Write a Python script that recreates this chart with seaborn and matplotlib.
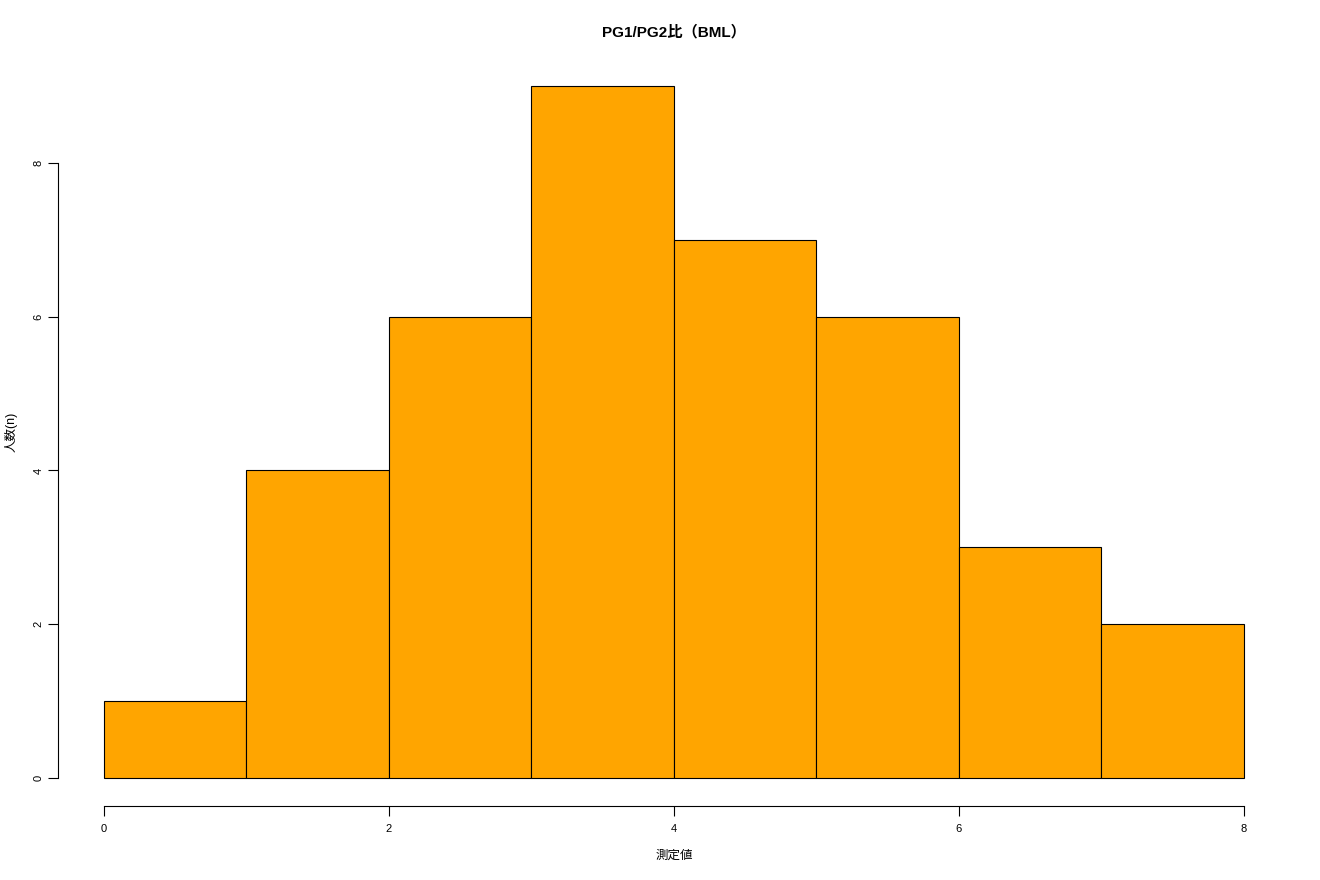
import matplotlib
matplotlib.use("Agg")
import matplotlib.pyplot as plt
import seaborn as sns
import numpy as np

bin_edges = [0, 1, 2, 3, 4, 5, 6, 7, 8]
counts = [1, 4, 6, 9, 7, 6, 3, 2]
x_ticks = [0, 2, 4, 6, 8]
y_ticks = [0, 2, 4, 6, 8]
title = "PG1/PG2比（BML）"
xlabel = "測定値"
ylabel = "人数(n)"

sns.set_style("white")
plt.rcParams['font.family'] = ['Liberation Sans', 'Noto Sans CJK JP', 'DejaVu Sans']
plt.rcParams['text.color'] = 'black'
plt.rcParams['axes.labelcolor'] = 'black'
plt.rcParams['xtick.color'] = 'black'
plt.rcParams['ytick.color'] = 'black'

fig = plt.figure(figsize=(13.2, 8.8), dpi=100)
ax = fig.add_axes([58.4/1320, 1-805.7/880, (1289.6-58.4)/1320, (805.7-58.4)/880])

centers = [(bin_edges[i] + bin_edges[i+1]) / 2 for i in range(len(counts))]
sns.histplot(x=centers, weights=counts, bins=bin_edges, color="#FFA500",
             edgecolor="black", linewidth=0.8, alpha=1, ax=ax)

ax.set_xlim(-0.32, 8.32)
ax.set_ylim(-0.36, 9.36)
ax.set_xticks(x_ticks)
ax.set_yticks(y_ticks)
ax.set_xticklabels([str(t) for t in x_ticks], fontsize=8)
ax.set_yticklabels([str(t) for t in y_ticks], fontsize=8, rotation=90, va='center')
for s in ['top', 'right']:
    ax.spines[s].set_visible(False)
ax.spines['left'].set_bounds(0, 8)
ax.spines['bottom'].set_bounds(0, 8)
for s in ['left', 'bottom']:
    ax.spines[s].set_color('black')
    ax.spines[s].set_linewidth(0.8)
ax.tick_params(axis='both', direction='out', length=7, width=0.8, color='black')
ax.tick_params(axis='x', pad=6.5)
ax.tick_params(axis='y', pad=3.5)
ax.tick_params(axis='both', which='both', left=True, bottom=True)

ax.set_title(title, fontsize=11, fontweight='bold', pad=16, color='black')
ax.set_xlabel(xlabel, fontsize=9, labelpad=11)
ax.set_ylabel(ylabel, fontsize=9, labelpad=12)

fig.savefig("out.png", dpi=100)
